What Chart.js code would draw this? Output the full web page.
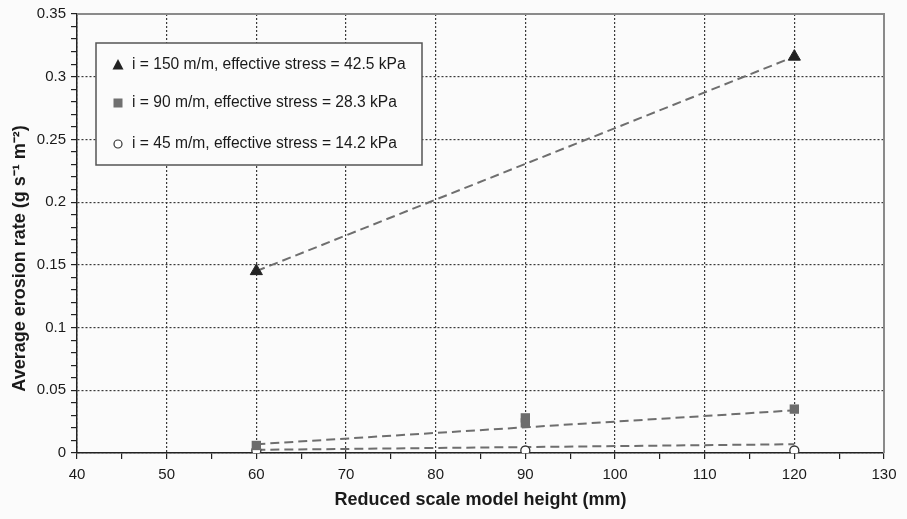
<!DOCTYPE html>
<html>
<head>
<meta charset="utf-8">
<script src="https://cdn.jsdelivr.net/npm/chart.js@4.4.1/dist/chart.umd.min.js"></script>
<style>
html, body { margin: 0; padding: 0; background: #fbfbfb; }
#wrap { width: 907px; height: 519px; }
</style>
</head>
<body>
<div id="wrap"><canvas id="grafico"></canvas></div>
<script>
// Altura do modelo (mm) x taxa média de erosão (g s-1 m-2)
const alturas150 = [60, 120];
const taxas150 = [0.145, 0.316];
const alturas90 = [60, 90, 90, 120];
const taxas90 = [0.006, 0.024, 0.028, 0.035];
const alturas45 = [60, 90, 120];
const taxas45 = [0.002, 0.002, 0.002];

// Linhas de tendência (tracejadas)
const alturasTendencia = [60, 120];
const tendencia150 = [0.145, 0.316];
const tendencia90 = [0.007, 0.034];
const tendencia45 = [0.0025, 0.007];

const rotulos = [
    'i = 150 m/m, effective stress = 42.5 kPa',
    'i = 90 m/m, effective stress = 28.3 kPa',
    'i = 45 m/m, effective stress = 14.2 kPa'
];
const ticksX = [40, 50, 60, 70, 80, 90, 100, 110, 120, 130];
const ticksY = [0, 0.05, 0.1, 0.15, 0.2, 0.25, 0.3, 0.35];

function pontos(xs, ys) {
    return xs.map((x, i) => ({ x: x, y: ys[i] }));
}

function ehMaiorY(v) {
    return ticksY.some(t => Math.abs(t - v) < 1e-6);
}

// Desenha o marcador da legenda
function marcador(ctx, estilo, x, y) {
    ctx.beginPath();
    if (estilo === 'triangle') {
        ctx.moveTo(x, y - 6);
        ctx.lineTo(x + 5.5, y + 4.5);
        ctx.lineTo(x - 5.5, y + 4.5);
        ctx.closePath();
        ctx.fillStyle = '#222';
        ctx.fill();
    } else if (estilo === 'rect') {
        ctx.fillStyle = '#707070';
        ctx.fillRect(x - 4.5, y - 4.5, 9, 9);
    } else {
        ctx.arc(x, y, 4, 0, Math.PI * 2);
        ctx.fillStyle = '#fff';
        ctx.fill();
        ctx.lineWidth = 1.2;
        ctx.strokeStyle = '#333';
        ctx.stroke();
    }
}

// Plugin: moldura do gráfico e caixa de legenda
const caixaLegenda = {
    id: 'caixaLegenda',
    afterDraw(chart) {
        const ctx = chart.ctx;
        const a = chart.chartArea;
        ctx.save();
        ctx.strokeStyle = '#8a8a8a';
        ctx.lineWidth = 2;
        ctx.beginPath();
        ctx.moveTo(a.left, a.top);
        ctx.lineTo(a.right, a.top);
        ctx.lineTo(a.right, a.bottom);
        ctx.stroke();

        const bx = a.left + 19, by = a.top + 29, bw = 326, bh = 122;
        ctx.fillStyle = '#fbfbfb';
        ctx.fillRect(bx, by, bw, bh);
        ctx.strokeStyle = '#555';
        ctx.lineWidth = 1.5;
        ctx.strokeRect(bx, by, bw, bh);

        const linhas = [22, 60, 101];
        const estilos = ['triangle', 'rect', 'circle'];
        ctx.font = '15.6px "Liberation Sans", Arial, sans-serif';
        ctx.textBaseline = 'middle';
        rotulos.forEach((r, i) => {
            const y = by + linhas[i];
            marcador(ctx, estilos[i], bx + 22, y);
            ctx.fillStyle = '#1a1a1a';
            ctx.fillText(r, bx + 36, y);
        });
        ctx.restore();
    }
};

const tendencia = {
    showLine: true,
    pointRadius: 0,
    borderColor: '#6e6e6e',
    borderWidth: 2,
    borderDash: [9, 5],
    order: 2
};

new Chart(document.getElementById('grafico'), {
    type: 'scatter',
    data: {
        datasets: [
            { label: rotulos[0], data: pontos(alturas150, taxas150), pointStyle: 'triangle', pointRadius: 7,
              backgroundColor: '#222', borderColor: '#222', borderWidth: 1, order: 0 },
            { label: rotulos[1], data: pontos(alturas90, taxas90), pointStyle: 'rect', pointRadius: 6.6,
              backgroundColor: '#6c6c6c', borderColor: '#6c6c6c', borderWidth: 0, order: 0 },
            { label: rotulos[2], data: pontos(alturas45, taxas45), pointStyle: 'circle', pointRadius: 4.5,
              backgroundColor: '#fff', borderColor: '#333', borderWidth: 1.3, order: 0 },
            Object.assign({ label: 't150', data: pontos(alturasTendencia, tendencia150) }, tendencia),
            Object.assign({ label: 't90', data: pontos(alturasTendencia, tendencia90) }, tendencia),
            Object.assign({ label: 't45', data: pontos(alturasTendencia, tendencia45) }, tendencia)
        ]
    },
    options: {
        responsive: true,
        maintainAspectRatio: false,
        animation: false,
        layout: { padding: { top: 14, right: 23, left: 0, bottom: 0 } },
        plugins: {
            legend: { display: false },
            tooltip: { enabled: false }
        },
        scales: {
            x: {
                type: 'linear',
                min: 40,
                max: 130,
                afterFit: s => { s.height = 66; },
                ticks: {
                    stepSize: 5,
                    autoSkip: false,
                    maxRotation: 0,
                    padding: 7,
                    color: '#1a1a1a',
                    font: { family: '"Liberation Sans", Arial, sans-serif', size: 15 },
                    callback: v => ticksX.includes(v) ? String(v) : ''
                },
                grid: {
                    color: c => (c.tick && ticksX.includes(c.tick.value)) ? '#3a3a3a' : 'rgba(0,0,0,0)',
                    lineWidth: 1.2,
                    tickColor: '#222',
                    tickLength: 6,
                    tickBorderDash: []
                },
                border: { color: '#222', width: 1.5, dash: [2, 2] },
                title: {
                    display: true,
                    text: 'Reduced scale model height (mm)',
                    color: '#1a1a1a',
                    font: { family: '"Liberation Sans", Arial, sans-serif', size: 18, weight: 'bold' },
                    padding: { top: 0, bottom: 8 }
                }
            },
            y: {
                min: 0,
                max: 0.35,
                afterFit: s => { s.width = 77; },
                ticks: {
                    stepSize: 0.01,
                    autoSkip: false,
                    padding: 5,
                    color: '#1a1a1a',
                    font: { family: '"Liberation Sans", Arial, sans-serif', size: 15 },
                    callback: v => ehMaiorY(v) ? String(+v.toFixed(2)) : ''
                },
                grid: {
                    color: c => (c.tick && ehMaiorY(c.tick.value)) ? '#3a3a3a' : 'rgba(0,0,0,0)',
                    lineWidth: 1.2,
                    tickColor: '#222',
                    tickLength: 6,
                    tickBorderDash: []
                },
                border: { color: '#222', width: 1.5, dash: [2, 2] },
                title: {
                    display: true,
                    text: 'Average erosion rate (g s\u207B\u00B9 m\u207B\u00B2)          ',
                    color: '#1a1a1a',
                    font: { family: '"Liberation Sans", Arial, sans-serif', size: 18, weight: 'bold' },
                    padding: { top: 9, bottom: 0 }
                }
            }
        }
    },
    plugins: [caixaLegenda]
});
</script>
</body>
</html>
